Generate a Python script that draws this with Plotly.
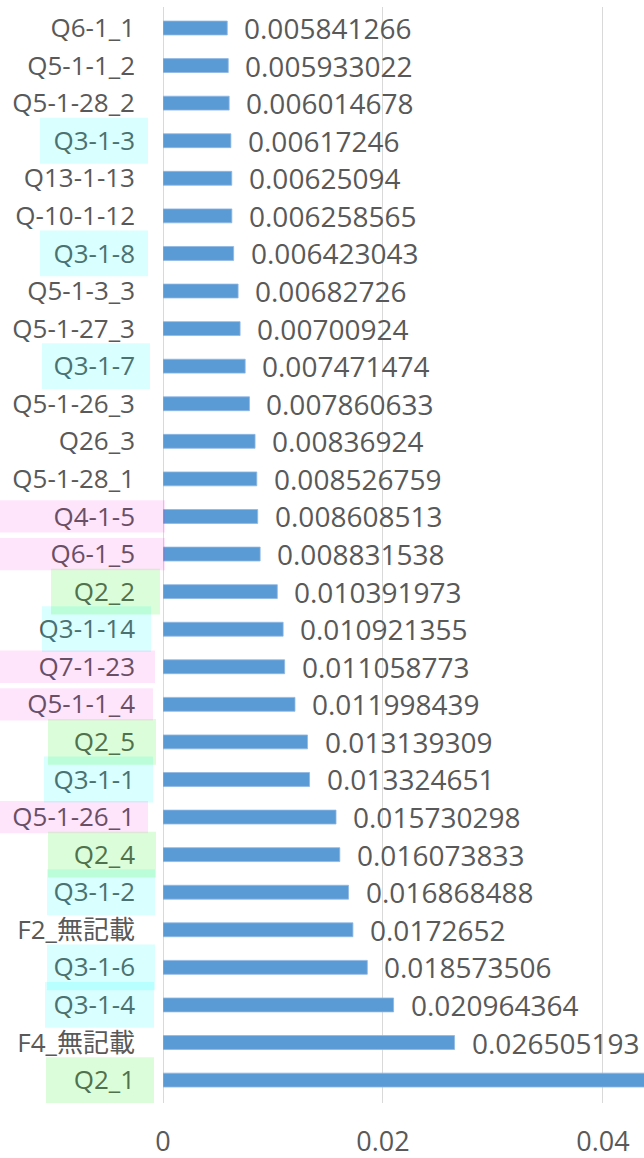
import plotly.graph_objects as go

# Categories listed top to bottom, with their scores
categories = [
    "Q6-1_1", "Q5-1-1_2", "Q5-1-28_2", "Q3-1-3", "Q13-1-13", "Q-10-1-12",
    "Q3-1-8", "Q5-1-3_3", "Q5-1-27_3", "Q3-1-7", "Q5-1-26_3", "Q26_3",
    "Q5-1-28_1", "Q4-1-5", "Q6-1_5", "Q2_2", "Q3-1-14", "Q7-1-23",
    "Q5-1-1_4", "Q2_5", "Q3-1-1", "Q5-1-26_1", "Q2_4", "Q3-1-2",
    "F2_無記載", "Q3-1-6", "Q3-1-4", "F4_無記載", "Q2_1",
]
values = [
    0.005841266, 0.005933022, 0.006014678, 0.00617246, 0.00625094, 0.006258565,
    0.006423043, 0.00682726, 0.00700924, 0.007471474, 0.007860633, 0.00836924,
    0.008526759, 0.008608513, 0.008831538, 0.010391973, 0.010921355, 0.011058773,
    0.011998439, 0.013139309, 0.013324651, 0.015730298, 0.016073833, 0.016868488,
    0.0172652, 0.018573506, 0.020964364, 0.026505193, 0.0455,
]
x_ticks = [0, 0.02, 0.04]
x_tick_labels = ["0", "0.02", "0.04"]

# Highlight groups for category labels
cyan_group = ["Q3-1-3", "Q3-1-8", "Q3-1-7", "Q3-1-14", "Q3-1-1", "Q3-1-2", "Q3-1-6", "Q3-1-4"]
pink_group = ["Q4-1-5", "Q6-1_5", "Q7-1-23", "Q5-1-1_4", "Q5-1-26_1"]
green_group = ["Q2_2", "Q2_5", "Q2_4", "Q2_1"]

W, H = 644, 1158
ML, MR, MT, MB = 163, 0, 7, 55
plot_w = W - ML - MR

FONT = "Open Sans, Noto Sans CJK JP, sans-serif"
GREY = "#595959"


def fmt(v):
    return f"{v:.9f}".rstrip("0")


fig = go.Figure()
fig.add_trace(go.Bar(
    x=values,
    y=categories,
    orientation="h",
    width=0.37,
    marker=dict(color="#5b9bd5", line=dict(color="#8fb8e3", width=0.8)),
    hoverinfo="skip",
))

# Value labels to the right of each bar
for c, v in zip(categories, values):
    fig.add_annotation(
        x=v, y=c, xref="x", yref="y",
        text=fmt(v), showarrow=False,
        xanchor="left", yanchor="middle", xshift=15,
        font=dict(family=FONT, size=28, color=GREY),
    )


def px_to_paper(px):
    return (px - ML) / plot_w


# Translucent highlight boxes over the category labels
def add_box(name, left_px, right_px, half_h, rgba):
    i = categories.index(name)
    fig.add_shape(
        type="rect", xref="paper", yref="y",
        x0=px_to_paper(left_px), x1=px_to_paper(right_px),
        y0=i - half_h, y1=i + half_h,
        fillcolor=rgba, line=dict(width=0), layer="above",
    )


box_x = {
    "Q3-1-3": (40, 148), "Q3-1-8": (40, 148), "Q3-1-7": (42, 150),
    "Q3-1-14": (42, 151), "Q3-1-1": (44, 153), "Q3-1-2": (47, 155),
    "Q3-1-6": (47, 155), "Q3-1-4": (45, 154),
    "Q4-1-5": (0, 165), "Q6-1_5": (0, 165), "Q7-1-23": (0, 155),
    "Q5-1-1_4": (0, 153), "Q5-1-26_1": (0, 148),
    "Q2_2": (51, 160), "Q2_5": (48, 156), "Q2_4": (48, 156), "Q2_1": (46, 154),
}
for n in cyan_group:
    add_box(n, *box_x[n], 0.61, "rgba(0,255,255,0.15)")
for n in pink_group:
    add_box(n, *box_x[n], 0.43, "rgba(255,0,220,0.10)")
for n in green_group:
    add_box(n, *box_x[n], 0.61, "rgba(40,240,20,0.16)")

fig.update_layout(
    width=W, height=H,
    margin=dict(l=ML, r=MR, t=MT, b=MB),
    paper_bgcolor="white", plot_bgcolor="white",
    showlegend=False,
    bargap=0.63,
    font=dict(family=FONT, color=GREY),
    xaxis=dict(
        range=[0, 0.04373],
        tickvals=x_ticks, ticktext=x_tick_labels,
        showgrid=True, gridcolor="#d9d9d9", gridwidth=1,
        zeroline=True, zerolinecolor="#d9d9d9", zerolinewidth=1,
        showline=False, ticks="",
        tickfont=dict(family=FONT, size=27, color=GREY),
        ticklabelstandoff=20,
        automargin=False,
        fixedrange=True,
    ),
    yaxis=dict(
        type="category",
        autorange="reversed",
        showgrid=False, showline=False, ticks="",
        tickfont=dict(family=FONT, size=26, color=GREY),
        ticklabelstandoff=27,
        automargin=False,
        fixedrange=True,
    ),
)

fig.write_html("out.html")
